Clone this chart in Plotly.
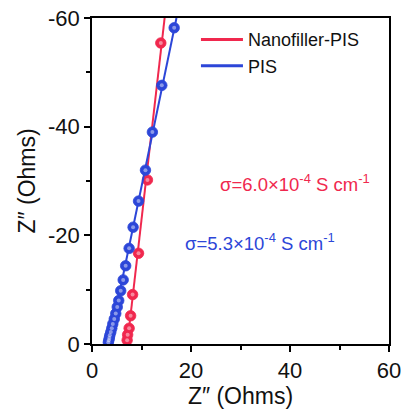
import numpy as np
import plotly.graph_objects as go

# Nyquist data (Z' real, Z'' imaginary), Ohms
pis_zre = [16.6, 14.1, 12.2, 10.8, 9.4, 8.3, 7.5, 6.8, 6.3, 5.8, 5.4, 5.1, 4.8, 4.5, 4.2,
           4.0, 3.8, 3.6, 3.5, 3.4, 3.3]
pis_zim = [-58.2, -47.6, -39.0, -32.0, -26.3, -21.5, -17.6, -14.4, -11.8, -9.8, -8.0, -6.8,
           -5.6, -4.6, -3.7, -2.9, -2.2, -1.6, -1.1, -0.7, -0.3]

nano_zre = [13.9, 11.2, 9.4, 8.2, 7.8, 7.5, 7.2, 7.1]
nano_zim = [-55.4, -30.2, -16.7, -9.1, -5.2, -2.9, -1.7, -0.7]

series_names = ["Nanofiller-PIS", "PIS"]
sigma_labels = ["σ=6.0×10<sup>-4</sup> S cm<sup>-1</sup>", "σ=5.3×10<sup>-4</sup> S cm<sup>-1</sup>"]
x_ticks = [0, 20, 40, 60]
y_ticks = [0, -20, -40, -60]
y_tick_text = ["0", "-20", "-40", "-60"]

RED = "#F0284E"
BLUE = "#2C46D8"
FONT = "Liberation Sans, Arial, sans-serif"

fig = go.Figure()


def add_series(zre, zim, color, name):
    # linear fit of Z' against Z'' drawn across the full imaginary range
    k, b = np.polyfit(zim, zre, 1)
    yy = np.array([0.0, -60.0])
    fig.add_trace(go.Scatter(x=k * yy + b, y=yy, mode="lines",
                             line=dict(color=color, width=2), showlegend=False,
                             hoverinfo="skip"))
    fig.add_trace(go.Scatter(x=zre, y=zim, mode="markers",
                             marker=dict(size=10.5, color=color,
                                         line=dict(color=color, width=0.8)),
                             showlegend=False))
    # lighter centre to give the balls some shading
    fig.add_trace(go.Scatter(x=zre, y=zim, mode="markers",
                             marker=dict(size=4, color="rgba(255,255,255,0.45)"),
                             showlegend=False, hoverinfo="skip"))
    fig.add_trace(go.Scatter(x=[None], y=[None], mode="lines", name=name,
                             line=dict(color=color, width=3)))


add_series(nano_zre, nano_zim, RED, series_names[0])
add_series(pis_zre, pis_zim, BLUE, series_names[1])

fig.add_annotation(x=0.424, y=0.494, xref="paper", yref="paper", xanchor="left",
                   yanchor="middle", text=sigma_labels[0], showarrow=False,
                   font=dict(color=RED, size=18.5, family=FONT))
fig.add_annotation(x=0.306, y=0.313, xref="paper", yref="paper", xanchor="left",
                   yanchor="middle", text=sigma_labels[1], showarrow=False,
                   font=dict(color=BLUE, size=18.5, family=FONT))

axis_common = dict(showgrid=False, zeroline=False, showline=True, linecolor="black",
                   linewidth=1.5, mirror=True, ticks="outside", ticklen=6, tickwidth=1.5,
                   tickcolor="black", tickfont=dict(size=22, color="#111", family=FONT),
                   automargin=False,
                   minor=dict(ticks="outside", ticklen=4, tickwidth=1.5, tickcolor="black",
                              dtick=10))

fig.update_xaxes(range=[0, 60], tickvals=x_ticks,
                 title=dict(text="Z″ (Ohms)", font=dict(size=23, color="#111", family=FONT),
                            standoff=4),
                 **axis_common)
fig.update_yaxes(range=[0, -60], tickvals=y_ticks, ticktext=y_tick_text,
                 title=dict(text="Z″ (Ohms)", font=dict(size=23, color="#111", family=FONT),
                            standoff=6),
                 **axis_common)

fig.update_layout(
    width=406, height=416,
    margin=dict(l=92, r=17, t=18, b=72),
    plot_bgcolor="white", paper_bgcolor="white",
    font=dict(family=FONT),
    legend=dict(x=0.35, y=0.99, xanchor="left", yanchor="top",
                bgcolor="rgba(0,0,0,0)", font=dict(size=18, color="#111", family=FONT),
                tracegroupgap=0, itemwidth=42),
)

fig.write_html("out.html")
